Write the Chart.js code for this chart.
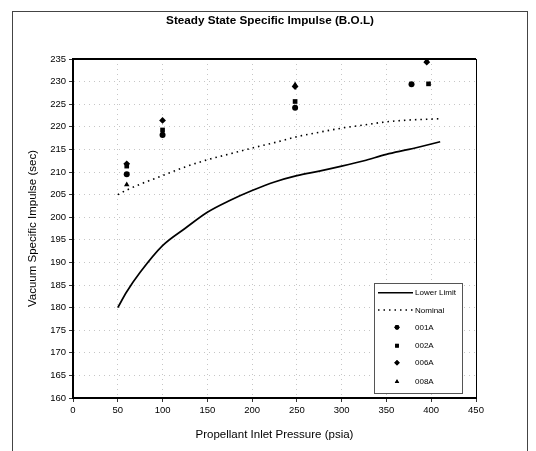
<!DOCTYPE html>
<html>
<head>
<meta charset="utf-8">
<script src="https://cdn.jsdelivr.net/npm/chart.js@4"></script>
<style>
  html, body { margin: 0; padding: 0; background: #fff; }
  #wrap { position: relative; width: 536px; height: 451px; }
  #frame { position: absolute; left: 12px; top: 11px; width: 514px; height: 460px;
           border: 1px solid #444; border-bottom: none; pointer-events: none; }
  canvas { position: absolute; left: 0; top: 0; }
</style>
</head>
<body>
<div id="wrap">
  <canvas id="c" width="536" height="451"></canvas>
  <div id="frame"></div>
</div>
<script>
(function () {
  'use strict';

  // curves (psia -> sec)
  const curvePressure = [50, 60, 75, 100, 125, 150, 175, 200, 225, 250, 275, 300, 325, 350, 375, 400, 410];
  const lowerLimit    = [180, 183.5, 187.8, 193.7, 197.5, 201.1, 203.7, 205.9, 207.8, 209.2, 210.2, 211.3, 212.5, 213.9, 215.0, 216.2, 216.7];
  const nominal       = [205, 206.0, 207.3, 209.2, 211.1, 212.7, 214.0, 215.3, 216.5, 217.8, 218.8, 219.7, 220.4, 221.1, 221.5, 221.7, 221.8];

  // test points
  const p001A = [60, 100, 248, 378];
  const v001A = [209.5, 218.2, 224.2, 229.4];
  const p002A = [60, 100, 248, 397];
  const v002A = [211.3, 219.3, 225.6, 229.5];
  const p006A = [60, 100, 248, 395];
  const v006A = [211.8, 221.4, 228.9, 234.3];
  const p008A = [60, 100, 248, 395];
  const v008A = [207.2, 218.7, 229.3, 234.7];

  const xTicks = [0, 50, 100, 150, 200, 250, 300, 350, 400, 450];
  const yTicks = [160, 165, 170, 175, 180, 185, 190, 195, 200, 205, 210, 215, 220, 225, 230, 235];
  const chartTitle = 'Steady State Specific Impulse (B.O.L)';

  const pts = (xs, ys) => xs.map((x, i) => ({ x, y: ys[i] }));
  const FONT = 'Arial, "Liberation Sans", sans-serif';

  function pointSet(label, xs, ys, style, r) {
    return {
      label, type: 'scatter', data: pts(xs, ys),
      pointStyle: style, pointRadius: r, pointHoverRadius: r,
      backgroundColor: '#000', borderColor: '#000', borderWidth: 0, showLine: false
    };
  }

  const datasets = [
    { label: 'Lower Limit', type: 'line', data: pts(curvePressure, lowerLimit),
      borderColor: '#000', borderWidth: 1.7, pointRadius: 0, cubicInterpolationMode: 'monotone', fill: false },
    { label: 'Nominal', type: 'line', data: pts(curvePressure, nominal),
      borderColor: '#000', borderWidth: 1.6, borderDash: [1.5, 4], pointRadius: 0, cubicInterpolationMode: 'monotone', fill: false },
    pointSet('001A', p001A, v001A, 'circle', 3),
    pointSet('002A', p002A, v002A, 'rect', 3.3),
    pointSet('006A', p006A, v006A, 'rectRot', 3.4),
    pointSet('008A', p008A, v008A, 'triangle', 3.2)
  ];

  // title, plot frame + legend box inside the plot area
  const frameAndLegend = {
    id: 'frameAndLegend',
    afterDraw(chart) {
      const { ctx, chartArea: a } = chart;
      ctx.save();
      ctx.fillStyle = '#000';
      ctx.font = 'bold 11.7px ' + FONT;
      ctx.textAlign = 'center';
      ctx.textBaseline = 'middle';
      ctx.fillText(chartTitle, 270, 20.5);

      ctx.strokeStyle = '#000';
      ctx.lineWidth = 1;
      ctx.strokeRect(a.left + 0.5, a.top + 0.5, a.right - a.left, a.bottom - a.top);
      ctx.lineWidth = 2;
      ctx.beginPath();
      ctx.moveTo(a.left, a.top); ctx.lineTo(a.right, a.top);
      ctx.stroke();

      const bx = 374, by = 283, bw = 88, bh = 110;
      ctx.fillStyle = '#fff';
      ctx.fillRect(bx, by, bw, bh);
      ctx.lineWidth = 1;
      ctx.strokeStyle = '#555';
      ctx.strokeRect(bx + 0.5, by + 0.5, bw, bh);

      const rows = [292.7, 310, 327.3, 345.7, 362.7, 381.7];
      ctx.font = '8px ' + FONT;
      ctx.textAlign = 'left';
      ctx.fillStyle = '#000';
      chart.data.datasets.forEach((ds, i) => {
        const y = rows[i];
        if (ds.type === 'line') {
          ctx.strokeStyle = '#000';
          ctx.lineWidth = 1.4;
          ctx.setLineDash(ds.borderDash || []);
          ctx.beginPath(); ctx.moveTo(378, y); ctx.lineTo(413, y); ctx.stroke();
          ctx.setLineDash([]);
        } else {
          Chart.helpers.drawPoint(ctx, { pointStyle: ds.pointStyle, radius: ds.pointRadius * 0.8, rotation: 0, borderWidth: 0 }, 397, y);
          ctx.fill();
        }
        ctx.fillText(ds.label, 415, y + 0.5);
      });
      ctx.restore();
    }
  };

  new Chart(document.getElementById('c').getContext('2d'), {
    type: 'scatter',
    data: { datasets },
    plugins: [frameAndLegend],
    options: {
      responsive: false,
      animation: false,
      layout: { padding: { left: 12, right: 60, top: 59, bottom: 0 } },
      plugins: {
        legend: { display: false },
        tooltip: { enabled: false },
        title: { display: false }
      },
      scales: {
        x: {
          type: 'linear', min: 0, max: 450,
          afterBuildTicks: s => { s.ticks = xTicks.map(v => ({ value: v })); },
          afterFit: s => { s.height = 53; },
          ticks: { color: '#000', font: { family: FONT, size: 9.5 }, padding: 3, maxRotation: 0 },
          grid: { color: '#b8b8b8', lineWidth: 0.8, tickLength: 4, tickColor: '#000' },
          border: { color: '#000', width: 2, dash: [1, 4] },
          title: { display: true, text: 'Propellant Inlet Pressure (psia)', color: '#000',
                   font: { family: FONT, size: 11.5 }, padding: { top: 4, bottom: 9 } }
        },
        y: {
          type: 'linear', min: 160, max: 235,
          afterBuildTicks: s => { s.ticks = yTicks.map(v => ({ value: v })); },
          afterFit: s => { s.width = 61; },
          ticks: { color: '#000', font: { family: FONT, size: 9.5 }, padding: 3 },
          grid: { color: '#b8b8b8', lineWidth: 0.8, tickLength: 4, tickColor: '#000' },
          border: { color: '#000', width: 2, dash: [1, 4] },
          title: { display: true, text: 'Vacuum Specific Impulse (sec)', color: '#000',
                   font: { family: FONT, size: 11.5 }, padding: { top: 14, bottom: 4 } }
        }
      }
    }
  });
})();
</script>
</body>
</html>
